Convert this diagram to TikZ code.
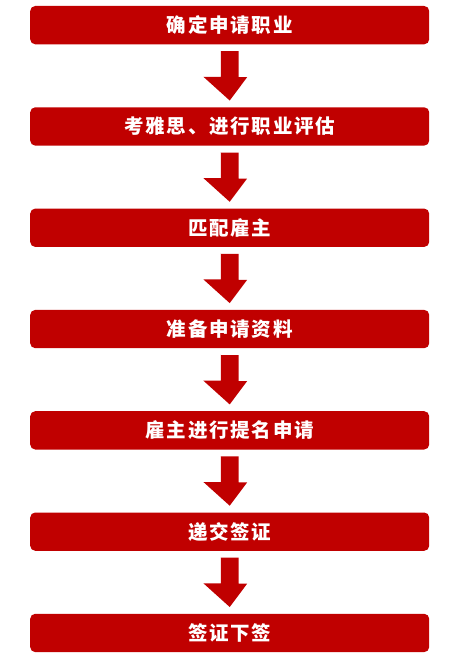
\documentclass[tikz,border=0pt]{standalone}
\usepackage{fontspec}
\newfontfamily\cjk[LetterSpace=9]{Noto Sans CJK SC}
\usetikzlibrary{positioning}
\definecolor{stepred}{RGB}{192,0,0}

\begin{document}
\begin{tikzpicture}[x=1pt,y=1pt,
    stepbox/.style={fill=stepred,rounded corners=5pt,minimum width=399pt,
      minimum height=38.3pt,inner sep=0pt,text=white,font=\cjk\bfseries\fontsize{19.5}{21}\selectfont},
    flowarrow/.style={fill=stepred}]

      \useasboundingbox (0,0) rectangle (468,-661);

      \foreach \t [count=\i] in {确定申请职业,考雅思、进行职业评估,匹配雇主,准备申请资料,
          雇主进行提名申请,递交签证,签证下签} {
        \node[stepbox] (s\i) at (229.7,-25.15-101.3*\i+101.3) {\t};
      }

      % block arrows between the steps
      \foreach \i [evaluate=\i as \j using int(\i+1)] in {1,...,6} {
        \fill[flowarrow] ([yshift=-6.7pt]s\i.south) ++(-8.85,0) -- ++(17.7,0) -- ++(0,-26)
          -- ++(8.6,0) -- ([yshift=6.6pt]s\j.north) -- ++(-26.3,23.7) -- ++(17.45,0)
          -- ++(0,26) -- cycle;
      }

    \end{tikzpicture}
\end{document}
